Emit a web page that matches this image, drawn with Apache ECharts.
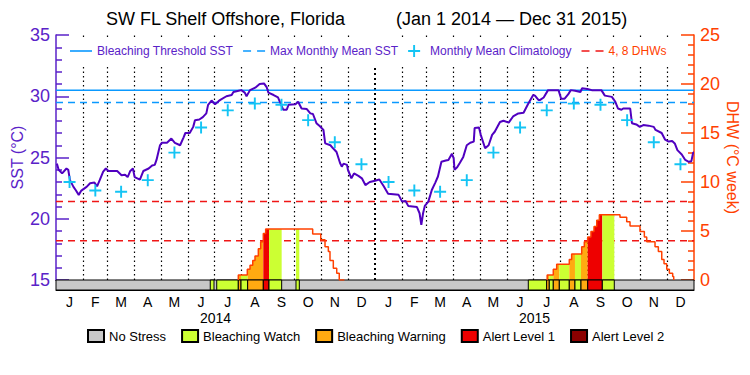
<!DOCTYPE html>
<html>
<head>
<meta charset="utf-8">
<title>SW FL Shelf Offshore, Florida</title>
<script src="https://cdn.jsdelivr.net/npm/echarts@6/dist/echarts.min.js"></script>
<style>
  html, body { margin: 0; padding: 0; background: #fff; }
  #chart { width: 750px; height: 375px; }
</style>
</head>
<body>
<div id="chart"></div>
<script>
// x values are days counted from Jan 1 2014 (0) to Dec 31 2015 (730)
const monthStarts = [0, 31, 59, 90, 120, 151, 181, 212, 243, 273, 304, 334,
  365, 396, 424, 455, 485, 516, 546, 577, 608, 638, 669, 699, 730]
const monthLetters = ['J', 'F', 'M', 'A', 'M', 'J', 'J', 'A', 'S', 'O', 'N', 'D']
const yearLabels = ['2014', '2015']
const yearMids = [182.5, 547.5]

// SST (°C)
const sstDays = [1, 3, 7, 12, 14, 16, 20, 22.5, 26, 29, 35, 39, 44, 47, 50, 54, 57, 60, 70, 75,
  79, 82, 85, 88, 90, 96, 100, 106, 110, 113, 115, 119, 121, 127, 132, 136, 142, 146, 148, 153,
  157, 159, 164, 168, 172, 174, 178, 182, 186, 188, 195, 201, 203, 209, 212, 216, 218, 222, 228, 233,
  238, 241, 243, 249, 254, 257, 260, 264, 266, 274, 277, 281, 287, 291, 294, 298, 302, 306, 308, 314,
  317, 321, 325, 327, 329, 333, 334, 338, 341, 346, 350, 354, 359, 365, 370,
  375, 380, 386, 392, 396, 400, 403, 413, 416, 418, 420, 422, 426, 430, 434, 437, 441, 446, 449, 453,
  455, 456, 459, 462, 466, 470, 474, 478, 479, 484, 486, 491, 495, 499, 502, 508, 512, 518, 523, 529,
  535, 540, 546, 548, 552, 554, 558, 563, 575, 578, 582, 586, 589, 594, 600, 602, 608, 613, 624, 628,
  636, 640, 643, 647, 649, 657, 659, 664, 668, 672, 678, 684, 686, 693, 697, 701, 705, 708, 711, 716,
  720, 724, 727, 729, 730]
const sstValues = [24.5, 24.0, 23.7, 24.1, 24.0, 23.15, 22.6, 22.35, 21.95, 22.3, 22.6, 22.9, 22.95, 22.65, 23.15, 23.85, 24.1, 23.9, 23.9, 23.55,
  23.6, 23.4, 23.9, 24.1, 23.4, 23.2, 23.9, 24.1, 24.35, 24.4, 24.8, 26.0, 26.2, 26.2, 26.55, 26.2, 26.0, 26.65, 27.0, 27.0,
  27.5, 28.05, 28.1, 28.3, 28.6, 29.3, 29.65, 29.35, 29.6, 29.7, 30.0, 30.1, 30.35, 30.45, 30.5, 30.3, 30.0, 30.5, 30.7, 31.0,
  31.05, 30.75, 30.3, 30.1, 29.9, 29.4, 28.9, 28.9, 29.3, 29.35, 29.55, 29.0, 28.95, 28.6, 28.55, 27.8, 27.55, 27.25, 26.15, 26.0,
  25.75, 25.45, 24.55, 24.25, 24.5, 24.4, 24.0, 23.3, 23.7, 23.5, 23.3, 22.75, 23.0, 23.1, 23.2,
  22.65, 22.05, 22.0, 21.95, 21.4, 21.45, 21.05, 20.95, 20.45, 19.5, 20.45, 21.05, 21.4, 22.35, 22.95, 23.45, 24.65, 24.75, 24.8, 25.3,
  24.95, 24.0, 24.2, 24.55, 25.05, 26.0, 26.2, 26.3, 27.4, 27.45, 26.85, 25.75, 26.0, 26.85, 27.1, 27.9, 28.0, 27.85, 28.35, 28.6,
  28.65, 29.35, 30.1, 30.05, 29.7, 29.7, 29.9, 30.5, 30.5, 29.8, 29.8, 30.15, 30.5, 30.45, 30.35, 30.65, 30.6, 30.5, 30.5, 30.05,
  29.95, 29.55, 29.0, 28.9, 29.0, 29.0, 27.8, 27.7, 27.5, 27.65, 27.6, 27.5, 27.25, 27.0, 26.45, 26.3, 26.35, 26.15, 25.6, 25.25,
  24.8, 24.65, 24.7, 25.4, 25.4]

// monthly mean climatology, Jan..Dec
const climMonthly = [23.0, 22.3, 22.2, 23.15, 25.4, 27.45, 28.85, 29.4, 29.3, 28.05, 26.25, 24.45]
const bleachingThreshold = 30.5
const maxMonthlyMean = 29.5
const dhwLevels = [4, 8]

// degree heating weeks, step values (null breaks the line)
const dhwDays = [208.6, 208.6, 218.9, 222, 225.1, 227.7, 231.5, 234.2, 237.2, 239.9, 293.7, 302.9, 307.8, 311.6, 313.5, 317.3, 321.2, 324.1, 330,
  562, 562, 569, 572.9, 587.3, 590, 601.5, 604.5, 608.4, 612.1, 615.6, 618.7, 621.7, 645.3, 653, 656.8, 668.2, 673.2, 675.9, 685.4, 689.2,
  693.1, 695.7, 698.8, 701.8, 705.6, 706.8]
const dhwValues = [0, 0.5, 1.1, 1.5, 2.0, 2.45, 3.2, 3.9, 4.75, 5.2, 4.7, 4.1, 3.4, 2.9, 2.0, 1.2, 0.7, 0, null,
  0, 0.5, 1.1, 1.6, 2.1, 2.65, 3.4, 3.9, 4.4, 4.95, 5.45, 6.1, 6.65, 6.4, 5.95, 5.5, 4.95, 4.4, 3.9, 3.4, 2.9,
  2.1, 1.65, 1.1, 0.7, 0.35, 0]

// bleaching stress periods (level 1 watch, 2 warning, 3 alert 1, 4 alert 2)
const stressStart = [176.5, 183.9, 208.6, 211.7, 219.3, 237.2, 243.7, 274.6,
  540.4, 561.4, 564.4, 569, 575.9, 587.3, 593.8, 600.7, 608.4, 625.1]
const stressEnd = [180.8, 208.6, 211.7, 219.3, 237.2, 243.7, 258.2, 278.4,
  561.4, 564.4, 569, 575.9, 587.3, 593.8, 600.7, 608.4, 625.1, 638.8]
const stressLevel = [1, 1, 2, 1, 2, 3, 1, 1,
  1, 2, 1, 2, 1, 2, 1, 2, 3, 1]
const stressNames = ['No Stress', 'Bleaching Watch', 'Bleaching Warning', 'Alert Level 1', 'Alert Level 2']
const stressColors = ['#c8c8c8', '#ccff33', '#ffaa11', '#ee0000', '#8b0000']

const FONT = "'Liberation Sans', Arial, sans-serif"
const PURPLE = '#5a22c8'
const SST_COLOR = '#5000c0'
const ORANGE = '#ff4000'
const RED_DASH = '#f01616'
const BLUE = '#0a99ff'
const CLIM_BLUE = '#14c4f4'
const PLUS = 'path://M4.2,0H5.8V4.2H10V5.8H5.8V10H4.2V5.8H0V4.2H4.2Z'
// legend icons: a plain line and a dashed line
const LINE_ICON = 'path://M0,0H22V1.6H0Z'
const DASH_ICON = 'path://M0,0H8V1.6H0Z M14,0H22V1.6H14Z'

const sstData = sstDays.map((d, i) => [d, sstValues[i]])
const dhwData = dhwDays.map((d, i) => [d, dhwValues[i]])
const monthMids = monthStarts.slice(0, -1).map((d, i) => (d + monthStarts[i + 1]) / 2)
const climData = monthMids.map((d, i) => [d, climMonthly[i % 12]])
const stressData = stressStart.map((s, i) => [s, stressEnd[i], stressLevel[i]])

function dhwAt(day) {
  let v = 0
  for (let i = 0; i < dhwDays.length; i++) {
    if (dhwDays[i] <= day) v = dhwValues[i] == null ? 0 : dhwValues[i]
    else break
  }
  return v
}

function nearestIndex(list, value) {
  let best = 0
  list.forEach((d, i) => { if (Math.abs(d - value) < Math.abs(list[best] - value)) best = i })
  return best
}

const chart = echarts.init(document.getElementById('chart'), null, { renderer: 'svg' })

const option = {
  animation: false,
  backgroundColor: '#fff',
  textStyle: { fontFamily: FONT },
  title: [
    { text: 'SW FL Shelf Offshore, Florida', left: 106, top: 10, padding: 0,
      textStyle: { fontSize: 18, fontWeight: 'normal', color: '#000', fontFamily: FONT } },
    { text: '(Jan 1 2014 \u2014 Dec 31 2015)', left: 396, top: 10, padding: 0,
      textStyle: { fontSize: 18, fontWeight: 'normal', color: '#000', fontFamily: FONT } }
  ],
  legend: [
    {
      // white box keeps the month lines out of the legend row
      left: 64, top: 37, padding: [8, 6, 8, 6], backgroundColor: '#fff', z: 6,
      itemWidth: 22, itemHeight: 12, itemGap: 10,
      textStyle: { fontSize: 12, color: PURPLE, fontFamily: FONT },
      selectedMode: false,
      data: [
        { name: 'Bleaching Threshold SST', icon: LINE_ICON },
        { name: 'Max Monthly Mean SST', icon: DASH_ICON },
        { name: 'Monthly Mean Climatology', icon: PLUS },
        { name: '4, 8 DHWs', icon: DASH_ICON, textStyle: { color: ORANGE } }
      ]
    },
    {
      left: 87, top: 329, padding: 0, itemWidth: 16, itemHeight: 12, itemGap: 15,
      icon: 'rect',
      textStyle: { fontSize: 13, color: '#000', fontFamily: FONT },
      selectedMode: false,
      data: stressNames
    }
  ],
  grid: [
    { left: 56, right: 56, top: 35, height: 245, outerBoundsMode: 'none' },
    { left: 56, right: 56, top: 280, height: 10, outerBoundsMode: 'none' }
  ],
  xAxis: [
    {
      type: 'value', gridIndex: 0, min: 0, max: 730, position: 'top',
      axisLine: { show: true, lineStyle: { color: '#000', width: 1 } },
      axisTick: { show: false }, axisLabel: { show: false }, splitLine: { show: false }
    },
    {
      type: 'value', gridIndex: 1, min: 0, max: 730, position: 'bottom',
      axisLine: { show: true, lineStyle: { color: '#000', width: 1 } },
      axisTick: { show: false }, splitLine: { show: false },
      axisLabel: {
        customValues: monthMids,
        formatter: v => monthLetters[nearestIndex(monthMids, v) % 12],
        fontSize: 14, lineHeight: 14, color: '#000', margin: 5
      }
    },
    {
      type: 'value', gridIndex: 1, min: 0, max: 730, position: 'bottom', offset: 19,
      axisLine: { show: false }, axisTick: { show: false }, splitLine: { show: false },
      axisLabel: {
        customValues: yearMids,
        formatter: v => yearLabels[nearestIndex(yearMids, v)],
        fontSize: 14, lineHeight: 14, color: '#000', margin: 2
      }
    }
  ],
  yAxis: [
    {
      type: 'value', gridIndex: 0, position: 'left', min: 15, max: 35, interval: 5,
      axisLine: { show: true, lineStyle: { color: PURPLE, width: 1.5 } },
      axisTick: { show: true, inside: true, length: 13, lineStyle: { color: PURPLE, width: 1.5 } },
      minorTick: { show: true, splitNumber: 5, length: 6, lineStyle: { color: PURPLE, width: 1.5 } },
      splitLine: { show: false },
      axisLabel: { color: PURPLE, fontSize: 18, margin: 6 },
      name: 'SST (\u00b0C)', nameLocation: 'middle', nameGap: 31, nameMoveOverlap: false,
      nameTextStyle: { color: PURPLE, fontSize: 16 }
    },
    {
      type: 'value', gridIndex: 0, position: 'right', min: 0, max: 25, interval: 5,
      axisLine: { show: true, lineStyle: { color: ORANGE, width: 1.5 } },
      axisTick: { show: true, inside: true, length: 13, lineStyle: { color: ORANGE, width: 1.5 } },
      minorTick: { show: true, splitNumber: 5, length: 6, lineStyle: { color: ORANGE, width: 1.5 } },
      splitLine: { show: false },
      axisLabel: { color: ORANGE, fontSize: 18, margin: 6 },
      name: 'DHW (\u00b0C week)', nameLocation: 'middle', nameGap: 30, nameRotate: -90, nameMoveOverlap: false,
      nameTextStyle: { color: ORANGE, fontSize: 16 }
    },
    { type: 'value', gridIndex: 1, min: 0, max: 1, show: false }
  ],
  series: [
    {
      name: 'Bleaching Threshold SST', type: 'line', xAxisIndex: 0, yAxisIndex: 0, z: 1,
      symbol: 'none', data: [[0, bleachingThreshold], [730, bleachingThreshold]],
      lineStyle: { color: BLUE, width: 1.5 }, itemStyle: { color: BLUE },
      markLine: {
        z: 1, silent: true, symbol: ['none', 'none'], label: { show: false },
        data: monthStarts.slice(1, -1).map(d => ({
          xAxis: d,
          lineStyle: d === 365
            ? { color: '#000', width: 2, type: [2, 3], opacity: 1 }
            : { color: '#000', width: 1.2, type: [1.5, 3], opacity: 1 }
        }))
      }
    },
    {
      name: 'Max Monthly Mean SST', type: 'line', xAxisIndex: 0, yAxisIndex: 0, z: 1,
      symbol: 'none', data: [[0, maxMonthlyMean], [730, maxMonthlyMean]],
      lineStyle: { color: BLUE, width: 1.5, type: [7, 5] }, itemStyle: { color: BLUE }
    },
    ...dhwLevels.map(v => ({
      name: '4, 8 DHWs', type: 'line', xAxisIndex: 0, yAxisIndex: 1, z: 1,
      symbol: 'none', data: [[0, v], [730, v]],
      lineStyle: { color: RED_DASH, width: 1.5, type: [7, 5] }, itemStyle: { color: RED_DASH }
    })),
    {
      name: 'DHW fill', type: 'custom', xAxisIndex: 0, yAxisIndex: 1, z: 2,
      encode: { x: [0, 1], y: 2 },
      data: stressData,
      renderItem: (params, api) => {
        const s = api.value(0), e = api.value(1), lvl = api.value(2)
        let v = dhwAt(s)
        const pts = [api.coord([s, 0]), api.coord([s, v])]
        dhwDays.forEach((d, i) => {
          if (d > s && d < e) {
            pts.push(api.coord([d, v]))
            v = dhwValues[i] == null ? 0 : dhwValues[i]
            pts.push(api.coord([d, v]))
          }
        })
        pts.push(api.coord([e, v]), api.coord([e, 0]))
        return { type: 'polygon', shape: { points: pts }, style: { fill: stressColors[lvl] } }
      }
    },
    {
      name: 'DHW', type: 'line', xAxisIndex: 0, yAxisIndex: 1, z: 3,
      step: 'end', symbol: 'none', connectNulls: false, data: dhwData,
      lineStyle: { color: ORANGE, width: 1.5 }, itemStyle: { color: ORANGE }
    },
    {
      name: 'SST', type: 'line', xAxisIndex: 0, yAxisIndex: 0, z: 4,
      symbol: 'none', data: sstData,
      lineStyle: { color: SST_COLOR, width: 2 }, itemStyle: { color: SST_COLOR }
    },
    {
      name: 'Monthly Mean Climatology', type: 'scatter', xAxisIndex: 0, yAxisIndex: 0, z: 5,
      symbol: PLUS, symbolSize: 12, symbolKeepAspect: true, data: climData,
      itemStyle: { color: CLIM_BLUE, opacity: 1 }
    },
    {
      name: 'Stress bar', type: 'custom', xAxisIndex: 1, yAxisIndex: 2, z: 2,
      encode: { x: [0, 1], y: 2 },
      data: [[0, 730, 0]].concat(stressData),
      renderItem: (params, api) => {
        const p0 = api.coord([api.value(0), 1])
        const p1 = api.coord([api.value(1), 0])
        return {
          type: 'rect',
          shape: { x: p0[0], y: p0[1], width: p1[0] - p0[0], height: p1[1] - p0[1] },
          style: { fill: stressColors[api.value(2)], stroke: '#000', lineWidth: 1 }
        }
      }
    },
    ...stressNames.map((name, i) => ({
      name, type: 'bar', xAxisIndex: 1, yAxisIndex: 2, data: [],
      itemStyle: { color: stressColors[i], borderColor: '#000', borderWidth: 1 }
    }))
  ]
}

chart.setOption(option)
window.addEventListener('resize', () => chart.resize())
</script>
</body>
</html>
